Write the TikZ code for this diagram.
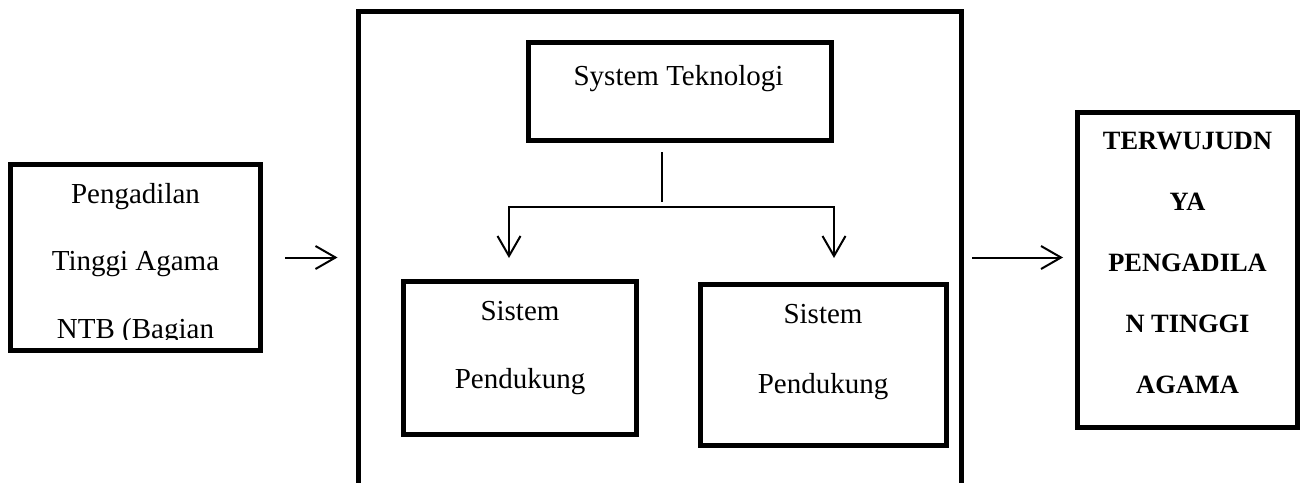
\documentclass[tikz,border=0pt]{standalone}
\usepackage{fontspec}
\setmainfont{Liberation Serif}
\usetikzlibrary{arrows.meta,positioning,calc}

\begin{document}
\begin{tikzpicture}[
  x=0.5pt, y=-0.5pt,
  kotak/.style={rectangle, draw=black, line width=2.5pt, inner sep=0pt},
  teks/.style={anchor=base, inner sep=0pt, font=\fontsize{14.5}{17}\selectfont},
  tebal/.style={anchor=base, inner sep=0pt, font=\fontsize{13.2}{16}\selectfont\bfseries},
  garis/.style={line width=1pt},
  panah/.style={-{Straight Barb[length=10pt,width=11.5pt]}, line width=1pt}
]
  \fill[white] (0,0) rectangle (1305,482);
  \useasboundingbox (0,0) rectangle (1305,482);

  % kotak luar, terbuka di bawah
  \node[minimum width=301.5pt, minimum height=240pt, inner sep=0pt, outer sep=0pt] (sys) at (659.5,251) {};
  \draw[line width=2.5pt] (sys.south west) |- (sys.north east) -- (sys.south east);

  % kotak-kotak
  \node[kotak, minimum width=125pt, minimum height=93pt]      (pta)   at (135.5,257.5) {};
  \node[kotak, minimum width=151.5pt, minimum height=49.25pt] (tek)   at (679.5,91.25) {};
  \node[kotak, minimum width=116.7pt, minimum height=76.65pt] (sp1)   at (520,357.85) {};
  \node[kotak, minimum width=123pt, minimum height=80.25pt]   (sp2)   at (823,364.75) {};
  \node[kotak, minimum width=110pt, minimum height=157.5pt]   (hasil) at (1187.5,269.5) {};

  % teks
  \begin{scope}
    \clip (pta.north west) rectangle ($(pta.south east)+(0,-14)$);
    \foreach \t [count=\i] in {Pengadilan, Tinggi Agama, {NTB (Bagian}}
      \node[teks] (pta-t\i) at ($(pta.north)+(0,{41+67.5*(\i-1)})$) {\t};
  \end{scope}
  \node[teks] (tek-t) at ($(tek.north)+(-1,45.5)$) {System Teknologi};
  \foreach \t [count=\i] in {Sistem, Pendukung}
    \node[teks] (sp1-t\i) at ($(sp1.north)+(0,{41.3+68*(\i-1)})$) {\t};
  \foreach \t [count=\i] in {Sistem, Pendukung}
    \node[teks] (sp2-t\i) at ($(sp2.north)+(0,{41+70*(\i-1)})$) {\t};
  \foreach \t [count=\i] in {TERWUJUDN, YA, PENGADILA, N TINGGI, AGAMA}
    \node[tebal] (hasil-t\i) at ($(hasil.north)+(0,{39.5+61*(\i-1)})$) {\t};

  % cabang
  \coordinate (cabang) at (662,207);
  \coordinate (kiri)   at (509,207);
  \coordinate (kanan)  at (834,207);
  \draw[garis, shorten <=4.5pt, shorten >=2.5pt] (tek.south -| cabang) -- (cabang);
  \draw[garis, {Straight Barb[length=10pt,width=11.5pt]}-{Straight Barb[length=10pt,width=11.5pt]},
        shorten <=10.35pt, shorten >=12pt]
    (kiri |- sp1.north) -- (kiri) -- (kanan) -- (kanan |- sp2.north);

  % masuk dan keluar
  \draw[panah, shorten <=11pt, shorten >=10.25pt] (pta.east) -- (pta.east -| sys.west);
  \draw[panah, shorten <=5.5pt, shorten >=6pt] (pta.east -| sys.east) -- (pta.east -| hasil.west);
\end{tikzpicture}
\end{document}
